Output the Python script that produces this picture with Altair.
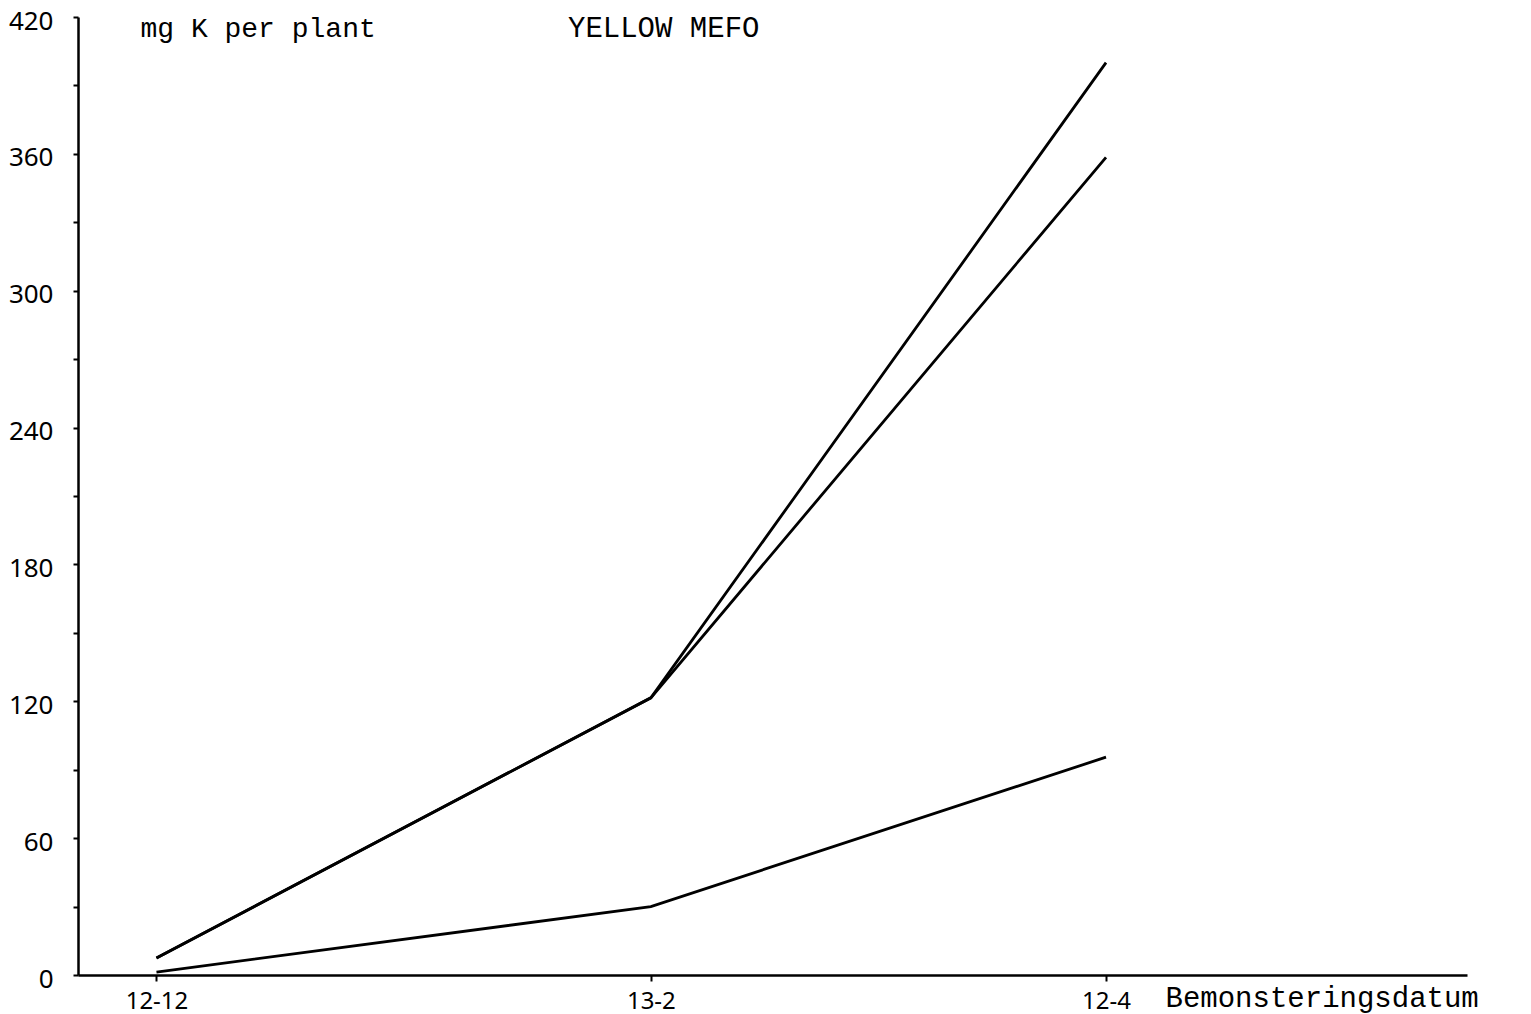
import altair as alt
import pandas as pd

# Sampling dates (days after the first sampling on 12 December)
sample_days = [0, 63, 121]
sample_labels = ["12-12", "13-2", "12-4"]

# Potassium uptake, mg K per plant, for the three treatments
series_a = [7.5, 121.5, 400.0]
series_b = [7.5, 121.5, 358.5]
series_c = [1.3, 30.0, 95.5]

y_ticks = list(range(0, 421, 30))

rows = []
for name, vals in [("A", series_a), ("B", series_b), ("C", series_c)]:
    for d, v in zip(sample_days, vals):
        rows.append({"series": name, "day": d, "mgK": v})
df = pd.DataFrame(rows)

label_map = "{" + ", ".join(f"'{d}': '{l}'" for d, l in zip(sample_days, sample_labels)) + "}"
ylab_expr = "datum.value % 60 == 0 ? datum.value : ''"

mono = "Courier New, Liberation Mono, monospace"
sans = "Noto Sans"

lines = alt.Chart(df).mark_line(color="black", strokeWidth=2.8).encode(
    x=alt.X(
        "day:Q",
        scale=alt.Scale(domain=[-10, 167], nice=False, zero=False),
        axis=alt.Axis(
            values=sample_days,
            labelExpr=f"{label_map}[datum.value + '']",
            grid=False,
            domainColor="black",
            domainWidth=2.5,
            tickColor="black",
            tickWidth=2,
            tickSize=6,
            labelFont=sans,
            labelFontSize=24,
            labelColor="black",
            labelPadding=8,
            labelFlush=False,
            title="Bemonsteringsdatum",
            titleFont=mono,
            titleFontSize=29,
            titleFontWeight="normal",
            titleColor="black",
            titleX=1087,
            titleY=37,
            titleAlign="left",
            titleBaseline="bottom",
        ),
    ),
    y=alt.Y(
        "mgK:Q",
        scale=alt.Scale(domain=[0, 420], nice=False),
        axis=alt.Axis(
            values=y_ticks,
            labelExpr=ylab_expr,
            grid=False,
            domainColor="black",
            domainWidth=2.5,
            tickColor="black",
            tickWidth=2,
            tickSize=5,
            labelFont=sans,
            labelFontSize=26,
            labelColor="black",
            labelPadding=20,
            labelOffset=4,
            labelFlush=False,
            title="mg K per plant",
            titleFont=mono,
            titleFontSize=28,
            titleFontWeight="normal",
            titleColor="black",
            titleAngle=0,
            titleX=62,
            titleY=11,
            titleAlign="left",
            titleBaseline="middle",
        ),
    ),
    detail="series:N",
)

heading = alt.Chart(pd.DataFrame({"t": ["YELLOW MEFO"]})).mark_text(
    font=mono, fontSize=29, color="black", align="left", baseline="middle"
).encode(x=alt.value(490), y=alt.value(11), text="t:N")

chart = (
    alt.layer(lines, heading)
    .properties(
        width=1389,
        height=958,
        autosize=alt.AutoSizeParams(type="none"),
        padding={"left": 78, "top": 17, "right": 64, "bottom": 39},
        background="white",
    )
    .configure_view(stroke=None)
)

chart.save("out.html", embed_options={"renderer": "svg", "actions": False})
